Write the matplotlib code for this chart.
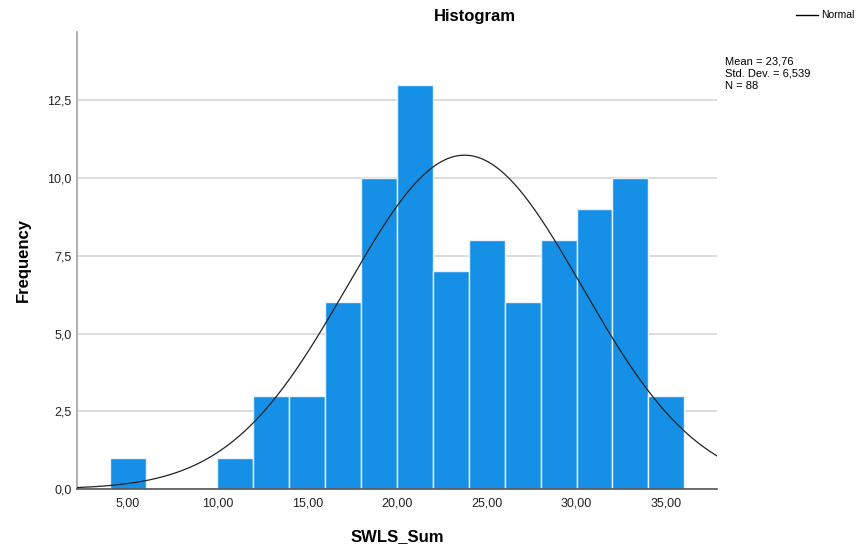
import numpy as np
import matplotlib
matplotlib.use("Agg")
import matplotlib.pyplot as plt
from matplotlib.ticker import FuncFormatter

# Data
bin_edges_left = [4, 10, 12, 14, 16, 18, 20, 22, 24, 26, 28, 30, 32, 34]
counts = [1, 1, 3, 3, 6, 10, 13, 7, 8, 6, 8, 9, 10, 3]
bin_width = 2
mean = 23.76
std = 6.539
n = 88
x_ticks = [5, 10, 15, 20, 25, 30, 35]
y_ticks = [0, 2.5, 5, 7.5, 10, 12.5]

plt.rcParams['font.family'] = ['Liberation Sans', 'DejaVu Sans']

fig = plt.figure(figsize=(8.66, 5.5), dpi=100)
ax = fig.add_axes([77/866, 1-489/550, (717-77)/866, (489-32)/550])

xmin, xmax = 2.18, 37.82
ax.set_xlim(xmin, xmax)
ax.set_ylim(0, 14.7)

ax.set_yticks(y_ticks)
ax.set_xticks(x_ticks)
ax.yaxis.set_major_formatter(FuncFormatter(lambda v, p: f"{v:.1f}".replace('.', ',')))
ax.xaxis.set_major_formatter(FuncFormatter(lambda v, p: f"{v:.2f}".replace('.', ',')))

ax.grid(axis='y', color='#d9d9d9', linewidth=1.3, zorder=0)
ax.set_axisbelow(True)

ax.bar(bin_edges_left, counts, width=bin_width, align='edge', color='#1590e6',
       edgecolor='#e8f2fb', linewidth=1.0, zorder=2)

xs = np.linspace(xmin, xmax, 400)
pdf = n * bin_width * np.exp(-0.5 * ((xs - mean) / std) ** 2) / (std * np.sqrt(2 * np.pi))
ax.plot(xs, pdf, color='#222222', linewidth=0.9, zorder=3)

for s in ['top', 'right']:
    ax.spines[s].set_visible(False)
ax.spines['left'].set_color('#aaaaaa')
ax.spines['left'].set_linewidth(1.3)
ax.spines['bottom'].set_color('#555555')
ax.spines['bottom'].set_linewidth(1.2)
ax.tick_params(axis='both', length=0, labelsize=9, colors='#222222', pad=6)
ax.tick_params(axis='y', pad=4)

ax.set_xlabel('SWLS_Sum', fontsize=12, fontweight='bold', labelpad=14)
ax.set_ylabel('Frequency', fontsize=12, fontweight='bold', labelpad=12)

fig.text(475/866, 1-17/550, 'Histogram', fontsize=12, fontweight='bold',
         ha='center', va='center')

# Legend
fig.add_artist(plt.Line2D([796/866, 818/866], [1-15/550, 1-15/550], color='black', linewidth=1.0))
fig.text(821/866, 1-15/550, 'Normal', fontsize=7.5, ha='left', va='center')

mean_s = f"{mean:.2f}".replace('.', ',')
std_s = f"{std:.3f}".replace('.', ',')
fig.text(725/866, 1-74/550,
         f"Mean = {mean_s}\nStd. Dev. = {std_s}\nN = {n}",
         fontsize=8, ha='left', va='center', linespacing=1.25)

fig.savefig('out.png', dpi=100)
